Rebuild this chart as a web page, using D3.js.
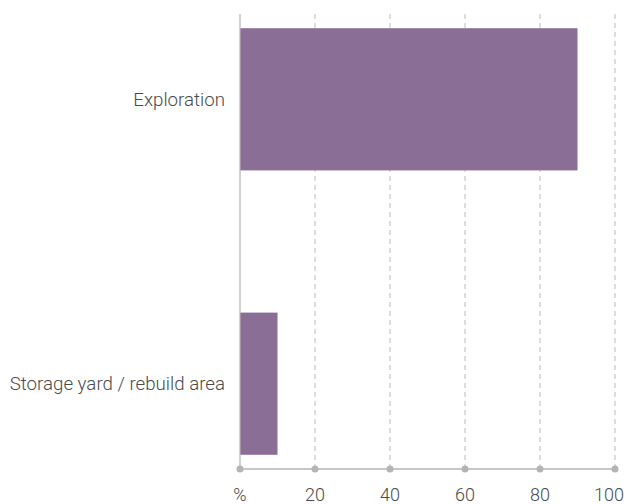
<!DOCTYPE html>
<html><head><meta charset="utf-8">
<script src="https://cdn.jsdelivr.net/npm/d3@7"></script>
<style>body{margin:0;background:#fff;}svg{display:block;font-family:Roboto,sans-serif;}</style>
</head><body>
<script>
const categories = ["Exploration", "Storage yard / rebuild area"];
const values = [90, 10];
const tickValues = [0, 20, 40, 60, 80, 100];
const tickLabels = ["%", "20", "40", "60", "80", "100"];

const W = 627, H = 504;
const svg = d3.select("body").append("svg").attr("width", W).attr("height", H);
const x = d3.scaleLinear().domain([0, 100]).range([240, 615]);
const y = d3.scaleBand().domain(categories).range([14, 469]).paddingInner(0.5).paddingOuter(0.05);

// grid
svg.append("g").selectAll("line").data(tickValues.slice(1)).join("line")
  .attr("x1", d => x(d)).attr("x2", d => x(d)).attr("y1", 14).attr("y2", 469)
  .attr("stroke", "#bdbdbd").attr("stroke-width", 1).attr("stroke-dasharray", "5,4");

// bars
svg.append("g").selectAll("rect").data(categories).join("rect")
  .attr("x", x(0)).attr("y", d => y(d))
  .attr("width", (d, i) => x(values[i]) - x(0)).attr("height", y.bandwidth())
  .attr("fill", "#8b6e96");

// y axis line
svg.append("line").attr("x1", x(0)).attr("x2", x(0)).attr("y1", 14).attr("y2", 469)
  .attr("stroke", "#b4b4b4").attr("stroke-width", 1.2);

// category labels
svg.append("g").selectAll("text").data(categories).join("text")
  .attr("x", 225).attr("y", d => y(d) + y.bandwidth() / 2).attr("dy", "0.35em")
  .attr("text-anchor", "end").attr("font-size", 18.7).attr("font-weight", 300)
  .attr("fill", "#4a4a4a").text(d => d);

// x axis
svg.append("line").attr("x1", x(0)).attr("x2", x(100)).attr("y1", 469).attr("y2", 469)
  .attr("stroke", "#b4b4b4").attr("stroke-width", 1.5);
svg.append("g").selectAll("circle").data(tickValues).join("circle")
  .attr("cx", d => x(d)).attr("cy", 469).attr("r", 3.5).attr("fill", "#b4b4b4");
const tl = svg.append("g").selectAll("text").data(tickValues).join("text")
  .attr("x", d => x(d)).attr("y", 501).attr("text-anchor", "middle")
  .attr("font-size", 18).attr("font-weight", 300).attr("fill", "#4a4a4a")
  .text((d, i) => tickLabels[i]);
// keep labels inside the picture
tl.each(function(d) {
  const w = this.getComputedTextLength();
  const cx = Math.min(x(d), W - 3 - w / 2);
  d3.select(this).attr("x", cx);
});
</script>
</body></html>
